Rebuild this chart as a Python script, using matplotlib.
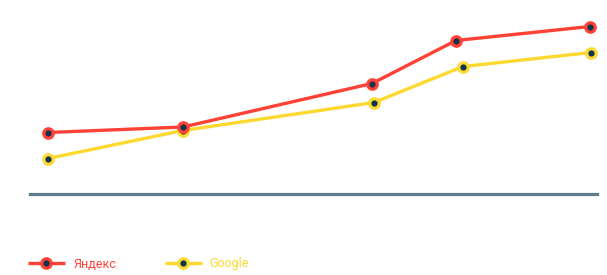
import matplotlib.pyplot as plt

plt.rcParams['font.family'] = ['Roboto', 'DejaVu Sans']

# values (arbitrary units, no axis labels shown)
yandex_x = [18, 153, 342, 426, 560]
yandex_y = [61.5, 67, 110.5, 153.5, 167.5]
google_x = [18, 153, 344, 433, 561]
google_y = [35.5, 63.5, 91.5, 127.5, 141.5]
series_names = ['Яндекс', 'Google']

red = '#ff4136'
yellow = '#fdd82f'
dot = '#0f3350'
axis_grey = '#607d8b'

fig = plt.figure(figsize=(6.07, 2.75), dpi=100)
# axes box: x from 30px to 597px, baseline at 194px from top
ax = fig.add_axes([30 / 607, 81 / 275, 567 / 607, 194 / 275])
ax.set_xlim(0, 567)
ax.set_ylim(0, 194)

style = dict(lw=2.4, marker='o', ms=6.8, mew=2.3, mfc=dot, solid_capstyle='butt')
ax.plot(google_x, google_y, color=yellow, mec=yellow, label=series_names[1], zorder=3, **style)
ax.plot(yandex_x, yandex_y, color=red, mec=red, label=series_names[0], zorder=4, **style)

ax.axhline(0, color=axis_grey, lw=2.3, zorder=2, clip_on=False)
for s in ax.spines.values():
    s.set_visible(False)
ax.set_xticks([])
ax.set_yticks([])

handles, labels = ax.get_legend_handles_labels()
leg = fig.legend(handles[::-1], labels[::-1], loc='center left',
                 bbox_to_anchor=(28 / 607, 1 - 264 / 275), ncol=2, frameon=False,
                 fontsize=9, handlelength=2.95, handletextpad=0.65,
                 columnspacing=3.9, borderaxespad=0, borderpad=0)
for text, c in zip(leg.get_texts(), [red, yellow]):
    text.set_color(c)

fig.savefig('out.png', dpi=100)
